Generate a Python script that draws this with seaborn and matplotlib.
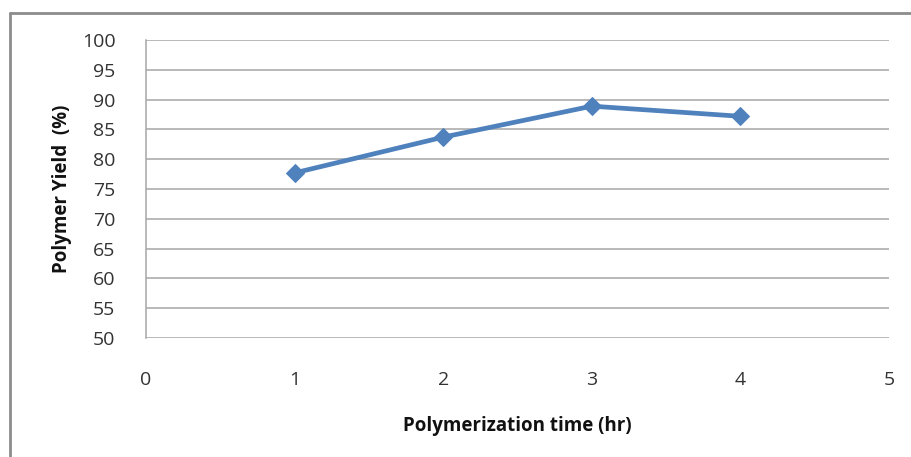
import matplotlib
matplotlib.use("Agg")
import matplotlib.pyplot as plt
import seaborn as sns
import pandas as pd
from matplotlib.lines import Line2D

time_hr = [1, 2, 3, 4]
yield_pct = [77.7, 83.7, 88.9, 87.2]
x_ticks = [0, 1, 2, 3, 4, 5]
y_ticks = [50, 55, 60, 65, 70, 75, 80, 85, 90, 95, 100]

sns.set_theme(style="white")
plt.rcParams['font.family'] = ['Open Sans', 'DejaVu Sans']

df = pd.DataFrame({"time": time_hr, "yield": yield_pct})

fig = plt.figure(figsize=(9.11, 4.57), dpi=100)
ax = fig.add_axes([146/911, 1-338/457, (889-146)/911, (338-40)/457])

sns.lineplot(data=df, x="time", y="yield", ax=ax, color="#4F81BD", linewidth=3.4,
             marker="D", markersize=9.5, markeredgecolor="#4F81BD")

ax.set_xlim(0, 5)
ax.set_ylim(50, 100)
ax.set_xticks(x_ticks)
ax.set_yticks(y_ticks)
ax.set_xticklabels([str(v) for v in x_ticks], fontsize=14, color="#333333")
ax.set_yticklabels([str(v) for v in y_ticks], fontsize=14, color="#333333")
ax.tick_params(axis="x", pad=24, length=0)
ax.tick_params(axis="y", pad=22, length=0)
ax.grid(axis="y", color="#a6a6a6", linewidth=1.1)
ax.grid(axis="x", visible=False)
for s in ["top", "right", "bottom"]:
    ax.spines[s].set_visible(False)
ax.spines["left"].set_color("#a6a6a6")
ax.spines["left"].set_linewidth(1.1)

ax.set_xlabel("Polymerization time (hr)", fontsize=13.5, fontweight="bold", labelpad=19, color="#111111")
ax.set_ylabel("Polymer Yield  (%)", fontsize=13.5, fontweight="bold", labelpad=7, color="#111111")

# outer frame (top and left edges visible)
fig.add_artist(Line2D([10/911, 1.0], [1-13/457, 1-13/457], transform=fig.transFigure,
                      color="#8c8c8c", linewidth=2))
fig.add_artist(Line2D([10/911, 10/911], [0, 1-13/457], transform=fig.transFigure,
                      color="#8c8c8c", linewidth=2))

fig.savefig("out.png", dpi=100)
